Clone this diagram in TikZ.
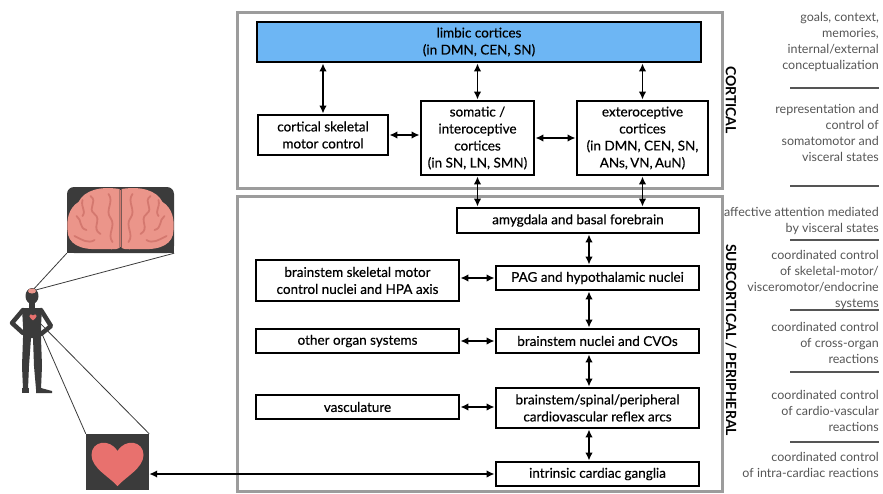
\documentclass[tikz,border=0pt]{standalone}
\usepackage{fontspec}
\setmainfont{Lato}
\newfontfamily\boxfont[FakeBold=0.35]{Lato}
\usetikzlibrary{positioning,arrows.meta}

\definecolor{limbicBlue}{HTML}{6DB6F4}
\definecolor{frameGray}{HTML}{9C9C9C}
\definecolor{iconDark}{HTML}{3B3B3B}
\definecolor{heartPink}{HTML}{E8716E}
\definecolor{brainPink}{HTML}{EB958A}
\definecolor{foldPink}{HTML}{D4786F}
\definecolor{noteGray}{HTML}{555555}

\tikzset{
    cortexBox/.style={draw=black, line width=2.8pt, fill=white, align=center, inner sep=1pt,
        font=\boxfont\fontsize{13.5}{17}\selectfont},
    twoWay/.style={line width=1.7pt, {Latex[length=8pt,width=7.5pt]}-{Latex[length=8pt,width=7.5pt]}},
    noteText/.style={anchor=east, align=right, text=noteGray, inner sep=0pt,
        font=\fontsize{12.5}{16}\selectfont},
    divider/.style={noteGray, line width=1.4pt},
    levelLabel/.style={rotate=-90, font=\bfseries\fontsize{14}{16}\selectfont},
    regionFrame/.style={frameGray, line width=3pt},
    zoomLine/.style={iconDark, line width=0.8pt},
}
\tikzset{
    heartShape/.pic={
		\fill[heartPink] (0,24) .. controls (-8,15) and (-26,6) .. (-26,-7) .. controls (-26,-21) and (-8,-24) .. (0,-11)
			.. controls (8,-24) and (26,-21) .. (26,-7) .. controls (26,6) and (8,15) .. (0,24) -- cycle;
	}
}
\tikzset{
    brainShape/.pic={
		\fill[iconDark, rounded corners=7pt] (-53.5,-33) rectangle (53.5,33);
		\fill[iconDark] (-53.5,0) rectangle (53.5,33);
		\foreach \s in {1,-1}{
			\begin{scope}[xscale=\s]
				\fill[brainPink] (-1,-31) .. controls (-20,-34) and (-36,-30) .. (-42,-18)
					.. controls (-52,-12) and (-54,0) .. (-53,10) .. controls (-53,24) and (-40,30) .. (-22,29)
					.. controls (-12,29) and (-4,30) .. (-1,28) -- cycle;
				\draw[foldPink, line width=1.8pt, line cap=round]
					(-30,-24) .. controls (-22,-18) and (-34,-12) .. (-26,-6) .. controls (-18,0) and (-30,8) .. (-20,14)
					(-44,-4) .. controls (-38,0) and (-42,8) .. (-34,10)
					(-12,-26) .. controls (-6,-18) and (-16,-10) .. (-10,-2) .. controls (-4,6) and (-14,14) .. (-8,22)
					(-46,16) .. controls (-38,20) and (-32,24) .. (-26,20)
					(-38,-20) .. controls (-40,-12) and (-34,-10) .. (-38,-4);
			\end{scope}
		}
		\draw[foldPink, line width=1pt] (0,-30) -- (0,27);
	}
}
\tikzset{
    person/.pic={
		\fill[iconDark] (0,0) ellipse (6.5 and 8);
		\fill[iconDark] (-3,6) rectangle (3,13);
		\fill[iconDark] (-10,12) -- (10,12) -- (9,30) -- (9,42) -- (-9,42) -- (-9,30) -- cycle;
		\draw[iconDark, line width=4.5pt, line join=round, line cap=round] (-9,14) -- (-20,27) -- (-9,37);
		\draw[iconDark, line width=4.5pt, line join=round, line cap=round] (9,14) -- (19,30) -- (9,38);
		\fill[iconDark] (-9,42) -- (-1,42) -- (-3,70) -- (-4,93) -- (-9,93) -- (-10,70) -- cycle;
		\fill[iconDark] (1,42) -- (9,42) -- (10,70) -- (9,93) -- (4,93) -- (2,70) -- cycle;
		\fill[iconDark] (-10,92) rectangle (-3,97);
		\fill[iconDark] (4,92) -- (9,92) -- (20,95) -- (20,97) -- (4,97) -- cycle;
		\fill[brainPink] (0,-5) ellipse (4 and 2.5);
		\pic[scale=0.14] at (1,21) {heartShape};
	}
}

\begin{document}
\begin{tikzpicture}[x=1pt, y=-1pt]
	\useasboundingbox (0,0) rectangle (883,493);
	% level frames
	\draw[regionFrame] (237,12) rectangle (722,188);
	\draw[regionFrame] (237,196) rectangle (722,491);
	\node[levelLabel] (cortLabel) at (731,100) {CORTICAL};
	\node[levelLabel] (subLabel) at (731,340) {SUBCORTICAL / PERIPHERAL};

	% body with brain and heart close-ups
	\coordinate (headSpot) at (32,291);
	\coordinate (chestSpot) at (35,318);
	\node[minimum width=107, minimum height=66, inner sep=0pt] (brainBox) at (120.5,220) {};
	\node[fill=iconDark, minimum width=63, minimum height=56, inner sep=0pt] (heartBox) at (117.5,462) {};
	\draw[zoomLine] (brainBox.south west) -- (headSpot) -- (brainBox.south east);
	\draw[zoomLine] (heartBox.north west) -- (chestSpot) -- (heartBox.north east);
	\pic at (32,296) {person};
	\pic at (brainBox) {brainShape};
	\pic at (heartBox) {heartShape};

	% cortical
	\node[cortexBox, fill=limbicBlue, minimum width=444, minimum height=40] (limbic) at (479,42) {limbic cortices\\(in DMN, CEN, SN)};
	\node[cortexBox, minimum width=130, minimum height=40] (motorCtx) at (323,135) {cortical skeletal\\motor control};
	\node[cortexBox, minimum width=113, minimum height=74] (somatic) at (477.5,138) {somatic /\\interoceptive\\cortices\\(in SN, LN, SMN)};
	\node[cortexBox, minimum width=131, minimum height=74] (extero) at (642.5,138) {exteroceptive\\cortices\\(in DMN, CEN, SN,\\ANs,\,VN,\,AuN)};

	% subcortical / peripheral
	\node[cortexBox, minimum width=242, minimum height=25] (amyg) at (578,220.5) {amygdala and basal forebrain};
	\node[cortexBox, minimum width=203, minimum height=24] (pag) at (597.5,278) {PAG and hypothalamic nuclei};
	\node[cortexBox, minimum width=203, minimum height=41] (bsMotor) at (357.5,280.5) {brainstem skeletal motor\\control nuclei and HPA axis};
	\node[cortexBox, minimum width=203, minimum height=24] (organs) at (357.5,341) {other organ systems};
	\node[cortexBox, minimum width=203, minimum height=24] (cvo) at (597.5,341) {brainstem nuclei and CVOs};
	\node[cortexBox, minimum width=203, minimum height=24] (vasc) at (357.5,407) {vasculature};
	\node[cortexBox, minimum width=203, minimum height=40] (reflex) at (597.5,408) {brainstem/spinal/peripheral\\cardiovascular reflex arcs};
	\node[cortexBox, minimum width=203, minimum height=24] (ganglia) at (597.5,474) {intrinsic cardiac ganglia};

	\draw[twoWay] (limbic.south -| motorCtx) -- (motorCtx.north);
	\draw[twoWay] (limbic.south -| somatic) -- (somatic.north);
	\draw[twoWay] (limbic.south -| extero) -- (extero.north);
	\draw[twoWay] (motorCtx.east) -- (motorCtx.east -| somatic.west);
	\draw[twoWay] (somatic.east) -- (extero.west);
	\draw[twoWay] (somatic.south) -- (somatic.south |- amyg.north);
	\draw[twoWay] (extero.south) -- (extero.south |- amyg.north);

	\coordinate (spine) at (589,0);
	\draw[twoWay] (spine |- amyg.south) -- (spine |- pag.north);
	\draw[twoWay] (spine |- pag.south) -- (spine |- cvo.north);
	\draw[twoWay] (spine |- cvo.south) -- (spine |- reflex.north);
	\draw[twoWay] (spine |- reflex.south) -- (spine |- ganglia.north);
	\draw[twoWay] (bsMotor.east |- pag) -- (pag.west);
	\draw[twoWay] (organs.east) -- (cvo.west);
	\draw[twoWay] (vasc.east) -- (vasc.east -| reflex.west);
	\draw[twoWay] (ganglia.west) -- (ganglia.west -| heartBox.east);

	% function of each level
	\node[noteText] (goals) at (879,42) {goals, context,\\memories,\\internal/external\\conceptualization};
	\node[noteText] (repr) at (879,133) {representation and\\control of\\somatomotor and\\visceral states};
	\node[noteText] (attn) at (879,221) {affective attention mediated\\by visceral states};
	\node[noteText] (coordSys) at (879,280) {coordinated control\\of skeletal-motor/\\visceromotor/endocrine\\systems};
	\node[noteText] (coordOrg) at (879,343) {coordinated control\\of cross-organ\\reactions};
	\node[noteText] (coordVasc) at (879,411) {coordinated control\\of cardio-vascular\\reactions};
	\node[noteText] (coordHeart) at (879,465) {coordinated control\\of intra-cardiac reactions};
	\foreach \y in {88,186,240,310,372,442}
		\draw[divider] (790,\y) -- (879,\y);
\end{tikzpicture}
\end{document}
